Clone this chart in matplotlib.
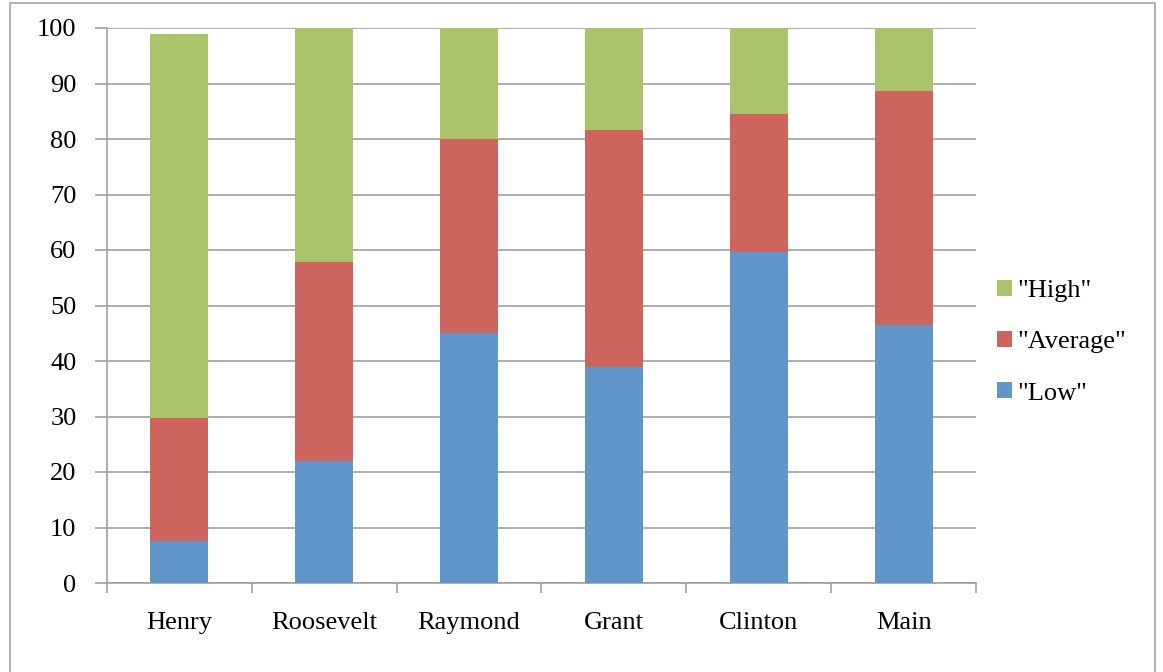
import numpy as np
import matplotlib.pyplot as plt
from matplotlib.patches import Rectangle

# Schools and score bands (percent of students)
schools = ['Henry', 'Roosevelt', 'Raymond', 'Grant', 'Clinton', 'Main']
low = np.array([7.5, 22.0, 45.0, 38.9, 59.6, 46.5])
average = np.array([22.2, 35.8, 35.0, 42.7, 24.9, 42.1])
high = np.array([69.2, 42.2, 20.0, 18.4, 15.5, 11.4])

c_low = '#6096C9'
c_avg = '#CD655E'
c_high = '#ABC46C'
grid_c = '#A0A0A0'

plt.rcParams['font.family'] = ['Liberation Serif', 'DejaVu Serif']

fig = plt.figure(figsize=(11.63, 6.72), dpi=100)
ax = fig.add_axes([107/1163, 1 - 583/672, (976-107)/1163, (583-28)/672])

# outer chart frame
fig.patches.append(Rectangle((10/1163, -0.01), (1155-10)/1163, 1 - 3/672 + 0.01,
                             transform=fig.transFigure, fill=False,
                             edgecolor='#A6A6A6', linewidth=1.2))

x = np.arange(len(schools))
w = 0.4
ax.bar(x, low, w, color=c_low, label='"Low"', zorder=3)
ax.bar(x, average, w, bottom=low, color=c_avg, label='"Average"', zorder=3)
ax.bar(x, high, w, bottom=low + average, color=c_high, label='"High"', zorder=3)

ax.set_xlim(-0.5, len(schools) - 0.5)
ax.set_ylim(0, 100)
ax.set_yticks(np.arange(0, 101, 10))
ax.yaxis.grid(True, color=grid_c, linewidth=1.2, zorder=0)

ax.set_xticks(x)
ax.set_xticklabels(schools)
ax.set_xticks(np.arange(-0.5, len(schools), 1), minor=True)
ax.tick_params(axis='x', which='major', length=0, pad=21, labelsize=19)
ax.tick_params(axis='x', which='minor', length=7, width=1.2, color=grid_c)
ax.tick_params(axis='y', length=9, width=1.2, color=grid_c, labelsize=19, pad=13)

for s in ['top', 'right']:
    ax.spines[s].set_visible(False)
for s in ['left', 'bottom']:
    ax.spines[s].set_color(grid_c)
    ax.spines[s].set_linewidth(1.2)

handles, labels = ax.get_legend_handles_labels()
ax.legend(handles[::-1], labels[::-1], loc='center left',
          bbox_to_anchor=(0.997, 0.434), frameon=False, fontsize=19,
          handlelength=0.55, handleheight=0.55, handletextpad=0.2,
          labelspacing=1.1)

fig.savefig('out.png', dpi=100)
